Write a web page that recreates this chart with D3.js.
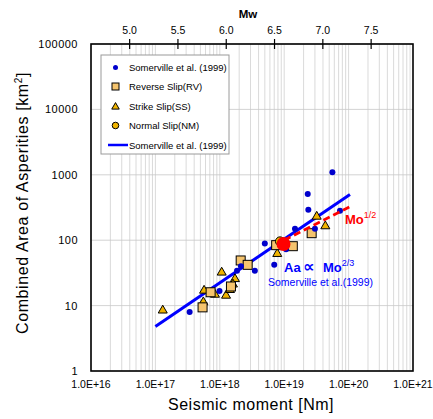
<!DOCTYPE html>
<html>
<head>
<meta charset="utf-8">
<title>Asperity area vs seismic moment</title>
<script src="https://d3js.org/d3.v7.min.js"></script>
<style>
  body { margin: 0; background: #fff; }
  text { font-family: "Liberation Sans", Arial, sans-serif; }
</style>
</head>
<body>
<div id="chart"></div>
<script>
// data (x = seismic moment Nm, y = area km2)
var somervilleX = [3.4e17, 9.9e17, 1.85e18, 2.13e18, 3.5e18, 5.0e18, 7.0e18, 1.07e19, 1.47e19, 2.32e19, 2.37e19, 3.0e19, 5.6e19, 7.35e19];
var somervilleY = [8.0, 16.7, 34, 40, 34, 89, 42, 73, 150, 508, 292, 150, 1090, 282];

var reverseX = [2.11e18, 2.71e18, 2.67e19, 1.36e19, 7.5e18, 1.49e18, 7.2e17, 5.4e17];
var reverseY = [49, 42, 128, 81, 84, 19.6, 16, 9.4];

var strikeX = [1.3e17, 5.7e17, 5.55e17, 1.07e18, 8.4e17, 1.25e18, 1.44e18, 1.72e18, 1.6e18, 7.8e18, 3.2e19, 4.35e19];
var strikeY = [8.6, 17.3, 11.5, 32.7, 15.0, 14.5, 17.7, 26, 21.5, 63, 234, 167];

var normalX = [8.6e18];
var normalY = [96];

// fitted lines (end points)
var fitX = [1e17, 1.05e20];
var fitY = [4.8, 500];
var halfX = [1e19, 1.05e20];
var halfY = [100, 325];

var targetX = [9.75e18];
var targetY = [87.5];

var xTicks = [1e16, 1e17, 1e18, 1e19, 1e20, 1e21];
var yTicks = [1, 10, 100, 1000, 10000, 100000];
var mwTicks = [5.0, 5.5, 6.0, 6.5, 7.0, 7.5];

var legendLabels = ["Somerville et al. (1999)", "Reverse Slip(RV)", "Strike Slip(SS)", "Normal Slip(NM)", "Somerville et al. (1999)"];

var W = 433, H = 419;
var margin = {top: 44, right: 20, bottom: 48, left: 91};
var w = 413 - margin.left, h = 371 - margin.top;

var svg = d3.select("#chart").append("svg")
    .attr("width", W)
    .attr("height", H);

var g = svg.append("g")
    .attr("transform", "translate(" + margin.left + "," + margin.top + ")");

var x = d3.scaleLog().domain([1e16, 1e21]).range([0, w]);
var y = d3.scaleLog().domain([1, 1e5]).range([h, 0]);

// vertical grid, every minor step
var vGrid = [];
xTicks.slice(0, -1).forEach(function(d) {
  for (var k = 1; k < 10; k++) vGrid.push(d * k);
});
g.append("g").selectAll("line")
  .data(vGrid).enter().append("line")
    .attr("x1", function(d) { return x(d); })
    .attr("x2", function(d) { return x(d); })
    .attr("y1", 0).attr("y2", h)
    .attr("stroke", "#d0d0d0")
    .attr("stroke-width", 0.8);

// horizontal grid, decades only
g.append("g").selectAll("line")
  .data(yTicks).enter().append("line")
    .attr("x1", 0).attr("x2", w)
    .attr("y1", function(d) { return y(d); })
    .attr("y2", function(d) { return y(d); })
    .attr("stroke", "#c8c8c8")
    .attr("stroke-width", 0.8);

// bottom axis labels
g.append("g").selectAll("text")
  .data(xTicks).enter().append("text")
    .attr("x", function(d) { return x(d); })
    .attr("y", h + 17)
    .attr("text-anchor", "middle")
    .style("font-size", "10.5px")
    .text(function(d) { return "1.0E+" + Math.round(Math.log10(d)); });

// left axis labels
g.append("g").selectAll("text")
  .data(yTicks).enter().append("text")
    .attr("x", -13)
    .attr("y", function(d) { return y(d) + 4; })
    .attr("text-anchor", "end")
    .style("font-size", "11px")
    .style("letter-spacing", "0.5px")
    .text(function(d) { return d; });

// top Mw axis
function mwToM0(mw) { return Math.pow(10, 1.5 * mw + 9.1); }
var topAxis = g.append("g");
topAxis.selectAll("line")
  .data(mwTicks).enter().append("line")
    .attr("x1", function(d) { return x(mwToM0(d)); })
    .attr("x2", function(d) { return x(mwToM0(d)); })
    .attr("y1", -5).attr("y2", 5)
    .attr("stroke", "#000")
    .attr("stroke-width", 1.2);
topAxis.selectAll("text")
  .data(mwTicks).enter().append("text")
    .attr("x", function(d) { return x(mwToM0(d)); })
    .attr("y", -10)
    .attr("text-anchor", "middle")
    .style("font-size", "10.5px")
    .text(function(d) { return d.toFixed(1); });
svg.append("text")
    .attr("x", 248).attr("y", 18)
    .attr("text-anchor", "middle")
    .style("font-size", "11.5px")
    .style("font-weight", "bold")
    .text("Mw");

// frame
g.append("rect")
    .attr("width", w).attr("height", h)
    .attr("fill", "none")
    .attr("stroke", "#000")
    .attr("stroke-width", 1.6);

// legend
var lg = svg.append("g");
lg.append("rect")
    .attr("x", 101).attr("y", 55)
    .attr("width", 128).attr("height", 99)
    .attr("fill", "#fff")
    .attr("stroke", "#9a9a9a");
lg.selectAll("text")
  .data(legendLabels).enter().append("text")
    .attr("x", 129)
    .attr("y", function(d, i) { return 70.5 + i * 19.5; })
    .style("font-size", "9.5px")
    .text(function(d) { return d; });

function drawSquare(sel, s) {
  sel.attr("width", s).attr("height", s)
    .attr("fill", "#f5c46e").attr("stroke", "#000").attr("stroke-width", 1);
}
function triPath(cx, cy, s) {
  var hh = s * 0.87;
  return "M" + cx + "," + (cy - hh * 0.6) + "L" + (cx + s / 2) + "," + (cy + hh * 0.4) + "L" + (cx - s / 2) + "," + (cy + hh * 0.4) + "Z";
}

lg.append("circle").attr("cx", 115.5).attr("cy", 67.5).attr("r", 2.5).attr("fill", "#0000cc");
lg.append("rect").attr("x", 112).attr("y", 83).call(drawSquare, 7);
lg.append("path").attr("d", triPath(115.5, 106.5, 7.5))
    .attr("fill", "#f0b400").attr("stroke", "#000");
lg.append("circle").attr("cx", 115.5).attr("cy", 125.5).attr("r", 3.3)
    .attr("fill", "#f0b400").attr("stroke", "#000");
lg.append("line").attr("x1", 108).attr("x2", 128).attr("y1", 145).attr("y2", 145)
    .attr("stroke", "#0000ff").attr("stroke-width", 2.5);

// Somerville fit line
var line = d3.line()
    .x(function(d) { return x(d[0]); })
    .y(function(d) { return y(d[1]); });
g.append("path")
    .attr("d", line(d3.zip(fitX, fitY)))
    .attr("stroke", "#0000ff")
    .attr("stroke-width", 3)
    .attr("fill", "none");

// strike slip triangles
g.append("g").selectAll("path")
  .data(d3.zip(strikeX, strikeY)).enter().append("path")
    .attr("d", function(d) { return triPath(x(d[0]), y(d[1]), 9); })
    .attr("fill", "#f0b400")
    .attr("stroke", "#000")
    .attr("stroke-width", 1);

// reverse slip squares
g.append("g").selectAll("rect")
  .data(d3.zip(reverseX, reverseY)).enter().append("rect")
    .attr("x", function(d) { return x(d[0]) - 4.5; })
    .attr("y", function(d) { return y(d[1]) - 4.5; })
    .call(drawSquare, 9);

// normal slip
g.append("g").selectAll("circle")
  .data(d3.zip(normalX, normalY)).enter().append("circle")
    .attr("cx", function(d) { return x(d[0]); })
    .attr("cy", function(d) { return y(d[1]); })
    .attr("r", 4.5)
    .attr("fill", "#f0b400")
    .attr("stroke", "#000");

// Somerville data
g.append("g").selectAll("circle")
  .data(d3.zip(somervilleX, somervilleY)).enter().append("circle")
    .attr("cx", function(d) { return x(d[0]); })
    .attr("cy", function(d) { return y(d[1]); })
    .attr("r", 3)
    .attr("fill", "#0000cc");

// Mo^1/2 dashed line
g.append("path")
    .attr("d", line(d3.zip(halfX, halfY)))
    .attr("stroke", "#ff0000")
    .attr("stroke-width", 2.8)
    .attr("stroke-dasharray", "7,4")
    .attr("fill", "none");

// target event
g.append("g").selectAll("circle")
  .data(d3.zip(targetX, targetY)).enter().append("circle")
    .attr("cx", function(d) { return x(d[0]); })
    .attr("cy", function(d) { return y(d[1]); })
    .attr("r", 7)
    .attr("fill", "#ff0000");

// annotations
var t1 = svg.append("text")
    .attr("x", 345).attr("y", 224)
    .attr("fill", "#ff0000")
    .style("font-size", "13px")
    .style("font-weight", "bold");
t1.append("tspan").text("Mo");
t1.append("tspan").attr("dy", -6).style("font-size", "9px").style("font-weight", "normal").text("1/2");

var t2 = svg.append("text")
    .attr("y", 272)
    .attr("fill", "#0000ff")
    .style("font-size", "13px")
    .style("font-weight", "bold");
t2.append("tspan").attr("x", 284).text("Aa");
t2.append("tspan").attr("x", 303).style("font-size", "16px").style("font-family", "DejaVu Sans").text("\u221D");
t2.append("tspan").attr("x", 323).text("Mo");
t2.append("tspan").attr("dy", -6).style("font-size", "9px").style("font-weight", "normal").text("2/3");

svg.append("text")
    .attr("x", 268).attr("y", 286)
    .attr("fill", "#0000ff")
    .style("font-size", "10.5px")
    .text("Somerville et al.(1999)");

// axis titles
svg.append("text")
    .attr("x", 251).attr("y", 410)
    .attr("text-anchor", "middle")
    .style("font-size", "16px")
    .style("letter-spacing", "0.5px")
    .text("Seismic moment [Nm]");

var yt = svg.append("text")
    .attr("transform", "translate(28,203) rotate(-90)")
    .attr("text-anchor", "middle")
    .style("font-size", "16px")
    .style("letter-spacing", "0.6px");
yt.append("tspan").text("Combined Area of Asperities [km");
yt.append("tspan").attr("dy", -6).style("font-size", "10px").text("2");
yt.append("tspan").attr("dy", 6).text("]");
</script>
</body>
</html>
